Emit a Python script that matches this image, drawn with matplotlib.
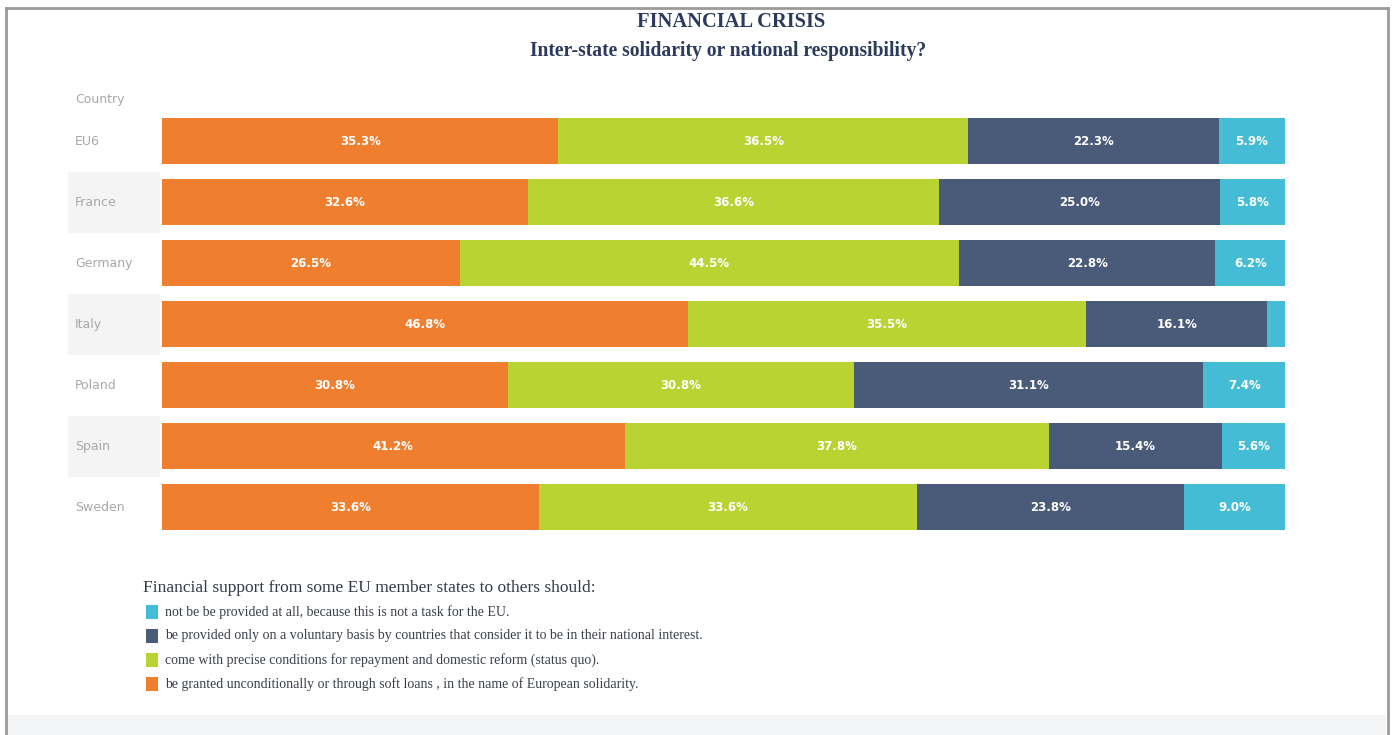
import matplotlib.pyplot as plt
from matplotlib.patches import Rectangle
from matplotlib.lines import Line2D

# Data
countries = ['EU6', 'France', 'Germany', 'Italy', 'Poland', 'Spain', 'Sweden']
unconditional = [35.3, 32.6, 26.5, 46.8, 30.8, 41.2, 33.6]
conditions = [36.5, 36.6, 44.5, 35.5, 30.8, 37.8, 33.6]
voluntary = [22.3, 25.0, 22.8, 16.1, 31.1, 15.4, 23.8]
not_at_all = [5.9, 5.8, 6.2, 1.6, 7.4, 5.6, 9.0]

series = [unconditional, conditions, voluntary, not_at_all]
colors = ['#EF7F2F', '#B9D432', '#4A5A79', '#45BCD6']
legend_labels = [
    'not be be provided at all, because this is not a task for the EU.',
    'be provided only on a voluntary basis by countries that consider it to be in their national interest.',
    'come with precise conditions for repayment and domestic reform (status quo).',
    'be granted unconditionally or through soft loans , in the name of European solidarity.',
]
legend_colors = ['#45BCD6', '#4A5A79', '#B9D432', '#EF7F2F']

W, H = 1394, 735
fig = plt.figure(figsize=(W / 100, H / 100), dpi=100)
fig.patch.set_facecolor('white')
serif = 'Liberation Serif'

def fx(px):
    return px / W

def fy(py):
    return 1 - py / H

# outer frame
for xs, ys in [((6, 6), (8, 735)), ((6, 1388), (8, 8)), ((1388, 1388), (8, 735))]:
    fig.add_artist(Line2D([fx(x) for x in xs], [fy(y) for y in ys],
                          color='#9a9a9a', linewidth=2))
fig.add_artist(Rectangle((fx(8), 0), fx(1378), 20 / H, facecolor='#f3f5f7',
                         edgecolor='none', transform=fig.transFigure, zorder=0))

# titles
title_color = '#2C3A5C'
fig.text(fx(731), fy(22), 'FINANCIAL CRISIS', ha='center', va='center',
         fontsize=14.8, fontweight='bold', family=serif, color=title_color)
fig.text(fx(728), fy(51), 'Inter-state solidarity or national responsibility?',
         ha='center', va='center', fontsize=14.1, fontweight='bold',
         family=serif, color=title_color)

# bar axes
row_h = 61
top = 141 - row_h / 2
n = len(countries)
ax = fig.add_axes([fx(162), fy(top + n * row_h), fx(1123), n * row_h / H])
ax.set_xlim(0, 100)
ax.set_ylim(n - 0.5, -0.5)
ax.axis('off')

y = list(range(n))
left = [0.0] * n
for vals, c in zip(series, colors):
    ax.barh(y, vals, left=left, height=0.74, color=c, edgecolor='none', zorder=2)
    for i, v in enumerate(vals):
        if v >= 3:
            ax.text(left[i] + v / 2, i, f'{v:.1f}%', ha='center', va='center',
                    color='white', fontsize=8.5, fontweight='bold', zorder=3)
    left = [l + v for l, v in zip(left, vals)]

# alternating row shading (label column only) + country labels
x0 = (68 - 162) / 1123 * 100
x1 = (160 - 162) / 1123 * 100
for i, name in enumerate(countries):
    if i % 2 == 1:
        ax.add_patch(Rectangle((x0, i - 0.5), x1 - x0, 1.0, facecolor='#f4f4f5',
                               edgecolor='none', zorder=0, clip_on=False))
    ax.text((75 - 162) / 1123 * 100, i, name, ha='left', va='center',
            fontsize=9, color='#a8a8a8')
fig.text(fx(75), fy(100), 'Country', ha='left', va='center', fontsize=9,
         color='#a8a8a8')

# legend
fig.text(fx(143), fy(588), 'Financial support from some EU member states to others should:',
         ha='left', va='center', fontsize=12.5, family=serif, color='#333a48')
for k, (lab, c) in enumerate(zip(legend_labels, legend_colors)):
    yc = 612 + k * 24
    fig.add_artist(Rectangle((fx(146), fy(yc + 7)), 12 / W, 14 / H, facecolor=c,
                             edgecolor='none', transform=fig.transFigure))
    fig.text(fx(165), fy(yc), lab, ha='left', va='center', fontsize=10,
             family=serif, color='#3a3f4a')

plt.savefig('out.png', dpi=100, facecolor='white')
